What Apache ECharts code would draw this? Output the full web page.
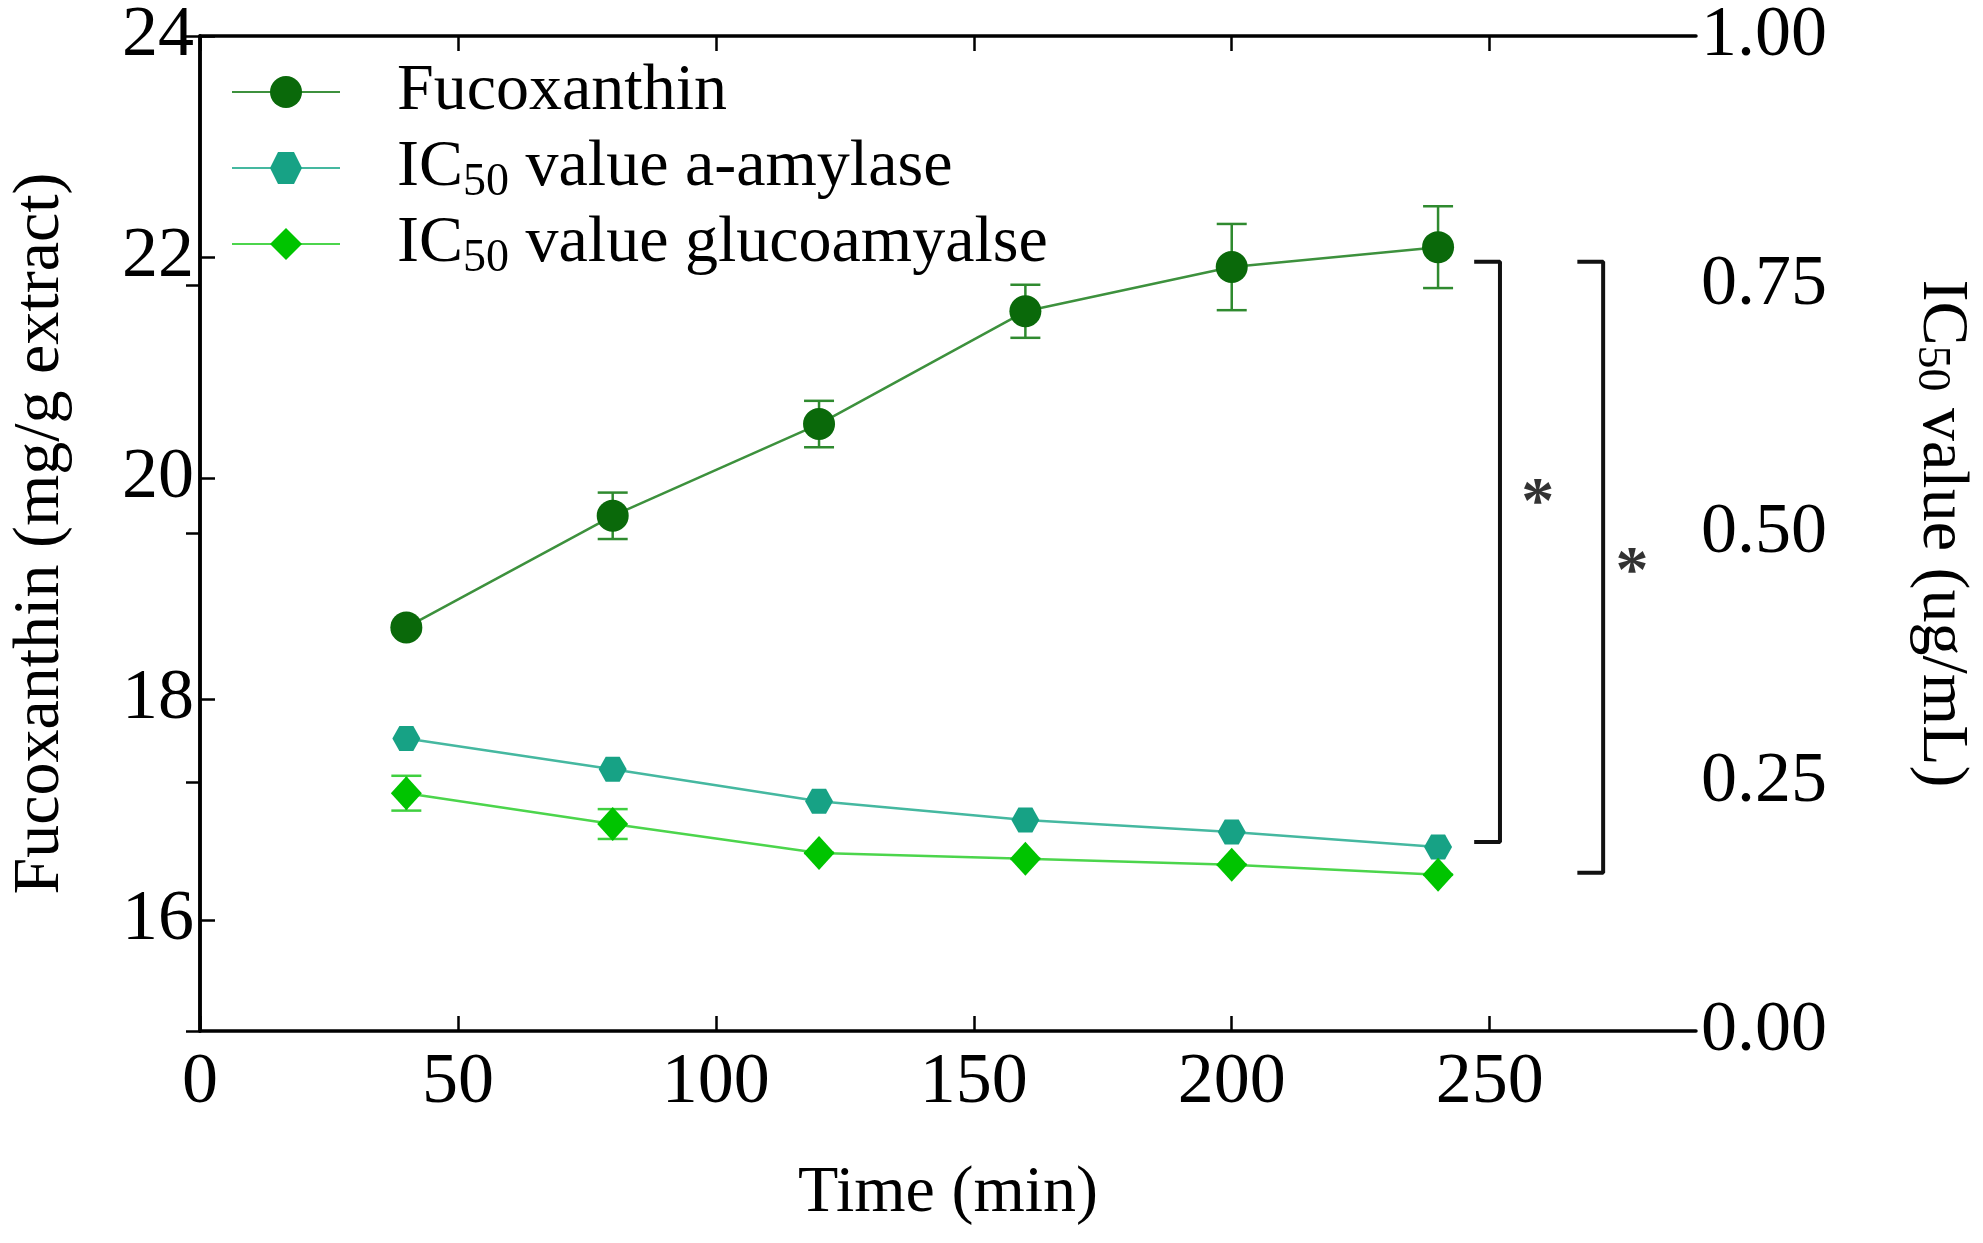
<!DOCTYPE html>
<html>
<head>
<meta charset="utf-8">
<script src="https://cdn.jsdelivr.net/npm/echarts@6/dist/echarts.min.js"></script>
<style>
  html, body { margin: 0; padding: 0; background: #fff; }
  #chart { width: 1983px; height: 1243px; }
</style>
</head>
<body>
<div id="chart"></div>
<script>
// ==============================
// data
// ==============================
const timeMin = [40, 80, 120, 160, 200, 240];
const fucoxanthin = [18.65, 19.66, 20.49, 21.51, 21.91, 22.09];
const fucoxanthinSd = [0.04, 0.21, 0.21, 0.24, 0.39, 0.37];
const amylaseIc50 = [0.294, 0.263, 0.231, 0.212, 0.200, 0.185];
const glucoIc50 = [0.239, 0.208, 0.179, 0.173, 0.167, 0.157];
const glucoSd = [0.0175, 0.015, 0, 0, 0, 0];

const xTicks = [0, 50, 100, 150, 200, 250];
const leftTicks = [16, 18, 20, 22, 24];

// significance brackets, in (time, IC50) units
const bracketA = [[247, 0.773], [252, 0.773], [252, 0.190], [247, 0.190]];
const bracketB = [[267, 0.773], [272, 0.773], [272, 0.159], [267, 0.159]];
const stars = [[259.3, 0.539], [277.6, 0.469]];

const names = ['Fucoxanthin', 'IC50 value a-amylase', 'IC50 value glucoamyalse'];

const FONT = "'Liberation Serif', 'Times New Roman', serif";
const C_FUCO = '#0a690a';
const C_FUCO_LINE = '#3d913d';
const C_AMY = '#17a285';
const C_AMY_LINE = '#45b8a0';
const C_GLU = '#00c400';
const C_GLU_LINE = '#4cd54c';

const pairs = (xs, ys) => xs.map((x, i) => [x, ys[i]]);
const triples = (xs, ys, es) => xs.map((x, i) => [x, ys[i], es[i]]);

function errorBarItem(params, api) {
  const x = api.value(0);
  const y = api.value(1);
  const e = api.value(2);
  const lo = api.coord([x, y - e]);
  const hi = api.coord([x, y + e]);
  const cap = 15;
  const style = { stroke: api.visual('color'), lineWidth: 2.5 };
  return {
    type: 'group',
    children: [
      { type: 'line', shape: { x1: lo[0], y1: lo[1], x2: hi[0], y2: hi[1] }, style },
      { type: 'line', shape: { x1: lo[0] - cap, y1: lo[1], x2: lo[0] + cap, y2: lo[1] }, style },
      { type: 'line', shape: { x1: hi[0] - cap, y1: hi[1], x2: hi[0] + cap, y2: hi[1] }, style }
    ]
  };
}

const axisLine = { show: true, lineStyle: { color: '#000', width: 3.5 } };
const hexagon = 'path://M-1,0 L-0.5,-0.866 L0.5,-0.866 L1,0 L0.5,0.866 L-0.5,0.866 Z';

const chart = echarts.init(document.getElementById('chart'));

chart.setOption({
  animation: false,
  backgroundColor: '#fff',
  grid: { left: 197, right: 287, top: 31, bottom: 212 },
  legend: {
    data: names,
    orient: 'vertical',
    left: 226,
    top: 49,
    itemWidth: 108,
    itemHeight: 40,
    itemGap: 0,
    formatter: name => '{gap|}' + name.replace('IC50', 'IC{sub|50}'),
    textStyle: {
      fontFamily: FONT,
      fontSize: 66,
      lineHeight: 76,
      color: '#000',
      rich: {
        gap: { width: 52 },
        sub: { fontFamily: FONT, fontSize: 46, lineHeight: 40, verticalAlign: 'bottom', color: '#000' }
      }
    }
  },
  xAxis: [
    {
      type: 'value',
      min: 0,
      max: 290,
      position: 'bottom',
      name: 'Time (min)',
      nameLocation: 'middle',
      nameGap: 130,
      nameTextStyle: { fontFamily: FONT, fontSize: 66, color: '#000' },
      axisLine,
      axisTick: { show: true, inside: true, length: 15, customValues: xTicks, lineStyle: { color: '#000', width: 2.5 } },
      axisLabel: { customValues: xTicks, fontFamily: FONT, fontSize: 72, color: '#000', margin: 16 },
      splitLine: { show: false }
    },
    {
      type: 'value',
      min: 0,
      max: 290,
      position: 'top',
      axisLine,
      axisTick: { show: true, inside: true, length: 15, customValues: xTicks, lineStyle: { color: '#000', width: 2.5 } },
      axisLabel: { show: false },
      splitLine: { show: false }
    }
  ],
  yAxis: [
    {
      type: 'value',
      min: 15,
      max: 24,
      position: 'left',
      name: 'Fucoxanthin (mg/g extract)',
      nameLocation: 'middle',
      nameRotate: 90,
      nameGap: 126,
      nameTextStyle: { fontFamily: FONT, fontSize: 66, color: '#000' },
      axisLine,
      axisTick: { show: true, inside: true, length: 15, customValues: leftTicks, lineStyle: { color: '#000', width: 2.5 } },
      axisLabel: { customValues: leftTicks, fontFamily: FONT, fontSize: 72, color: '#000', margin: 6 },
      splitLine: { show: false }
    },
    {
      type: 'value',
      min: 0,
      max: 1,
      interval: 0.25,
      position: 'right',
      name: 'IC{sub|50} value (ug/mL)',
      nameLocation: 'middle',
      nameRotate: -90,
      nameGap: 212,
      nameTextStyle: {
        fontFamily: FONT,
        fontSize: 66,
        color: '#000',
        rich: {
          sub: { fontFamily: FONT, fontSize: 46, lineHeight: 40, verticalAlign: 'bottom', color: '#000' }
        }
      },
      axisLine,
      axisTick: { show: true, inside: true, length: 14, lineStyle: { color: '#000', width: 2.5 } },
      axisLabel: { fontFamily: FONT, fontSize: 72, color: '#000', margin: 5, formatter: v => v.toFixed(2) },
      splitLine: { show: false }
    }
  ],
  series: [
    {
      type: 'custom',
      name: 'fucoErr',
      yAxisIndex: 0,
      renderItem: errorBarItem,
      itemStyle: { color: '#2f8a2f' },
      encode: { x: 0, y: 1 },
      data: triples(timeMin, fucoxanthin, fucoxanthinSd),
      z: 1,
      silent: true
    },
    {
      type: 'custom',
      name: 'glucoErr',
      yAxisIndex: 1,
      renderItem: errorBarItem,
      itemStyle: { color: '#3fcf3f' },
      encode: { x: 0, y: 1 },
      data: triples(timeMin, glucoIc50, glucoSd),
      z: 1,
      silent: true
    },
    {
      type: 'line',
      name: names[0],
      yAxisIndex: 0,
      data: pairs(timeMin, fucoxanthin),
      symbol: 'circle',
      symbolSize: 32,
      itemStyle: { color: C_FUCO },
      lineStyle: { color: C_FUCO_LINE, width: 2.5 },
      z: 3
    },
    {
      type: 'line',
      name: names[1],
      yAxisIndex: 1,
      data: pairs(timeMin, amylaseIc50),
      symbol: hexagon,
      symbolSize: [28, 25],
      itemStyle: { color: C_AMY },
      lineStyle: { color: C_AMY_LINE, width: 2.5 },
      z: 3
    },
    {
      type: 'line',
      name: names[2],
      yAxisIndex: 1,
      data: pairs(timeMin, glucoIc50),
      symbol: 'diamond',
      symbolSize: [31, 34],
      itemStyle: { color: C_GLU },
      lineStyle: { color: C_GLU_LINE, width: 2.5 },
      z: 3
    },
    {
      type: 'line',
      name: 'bracketA',
      yAxisIndex: 1,
      data: bracketA,
      symbol: 'none',
      lineStyle: { color: '#111', width: 4 },
      silent: true
    },
    {
      type: 'line',
      name: 'bracketB',
      yAxisIndex: 1,
      data: bracketB,
      symbol: 'none',
      lineStyle: { color: '#111', width: 4 },
      silent: true
    },
    {
      type: 'scatter',
      name: 'stars',
      yAxisIndex: 1,
      data: stars,
      symbolSize: 1,
      itemStyle: { color: 'rgba(0,0,0,0)' },
      label: {
        show: true,
        position: 'inside',
        formatter: '*',
        fontFamily: FONT,
        fontSize: 66,
        fontWeight: 'bold',
        color: '#000',
        offset: [0, 10]
      },
      silent: true
    }
  ]
});
</script>
</body>
</html>
